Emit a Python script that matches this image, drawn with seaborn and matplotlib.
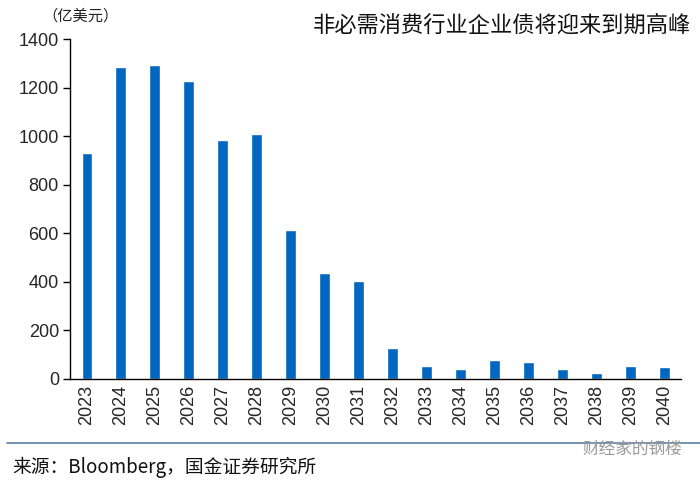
import matplotlib
matplotlib.use("Agg")
import matplotlib.pyplot as plt
import seaborn as sns
import pandas as pd

# data (亿美元)
years = ["2023", "2024", "2025", "2026", "2027", "2028", "2029", "2030", "2031",
         "2032", "2033", "2034", "2035", "2036", "2037", "2038", "2039", "2040"]
values = [930, 1284, 1292, 1227, 984, 1008, 613, 435, 403,
          128, 54, 42, 78, 70, 40, 25, 54, 49]
yticks = [0, 200, 400, 600, 800, 1000, 1200, 1400]

df = pd.DataFrame({"year": years, "value": values})

sns.set_theme(style="white")
plt.rcParams['font.family'] = ['Noto Sans CJK SC', 'DejaVu Sans']

fig = plt.figure(figsize=(7, 4.84), dpi=100)
ax = fig.add_axes([0.1, 0.217, 0.873, 0.702])

sns.barplot(data=df, x="year", y="value", color="#0066BF", saturation=1,
            width=0.32, ax=ax)

ax.set_ylim(0, 1400)
ax.set_xlim(-0.5, len(years) - 0.5)
ax.set_yticks(yticks)
ax.set_yticklabels([str(t) for t in yticks], family="Liberation Sans", fontsize=13)
ax.set_xticks(range(len(years)))
ax.set_xticklabels(years, rotation=90, family="Liberation Sans", fontsize=13)
ax.set_xlabel("")
ax.set_ylabel("")

# x ticks between the categories
ax.set_xticks([i + 0.5 for i in range(-1, len(years))], minor=True)
ax.tick_params(axis="x", which="major", length=0, pad=4)
ax.tick_params(axis="x", which="minor", length=5, width=1, color="black", direction="out")
ax.tick_params(axis="y", length=5, width=1, color="black", direction="out", left=True, pad=3)

for s in ["top", "right"]:
    ax.spines[s].set_visible(False)
for s in ["left", "bottom"]:
    ax.spines[s].set_color("black")
    ax.spines[s].set_linewidth(1)

fig.text(0.06, 0.967, "（亿美元）", fontsize=11, ha="left", va="center", color="#222222")
fig.text(0.987, 0.948, "非必需消费行业企业债将迎来到期高峰", fontsize=16,
         ha="right", va="center", color="#111111")

# separator line and source
fig.add_artist(plt.Line2D([0.01, 1.0], [0.085, 0.085], color="#5B7FA6", linewidth=1.2,
                          transform=fig.transFigure))
fig.text(0.018, 0.035, "来源：Bloomberg，国金证券研究所", fontsize=13.5,
         ha="left", va="center", color="#111111")
fig.text(0.975, 0.072, "财经家的钢楼", fontsize=12, ha="right", va="center", color="#9a9a9a")

fig.savefig("out.png", dpi=100)
